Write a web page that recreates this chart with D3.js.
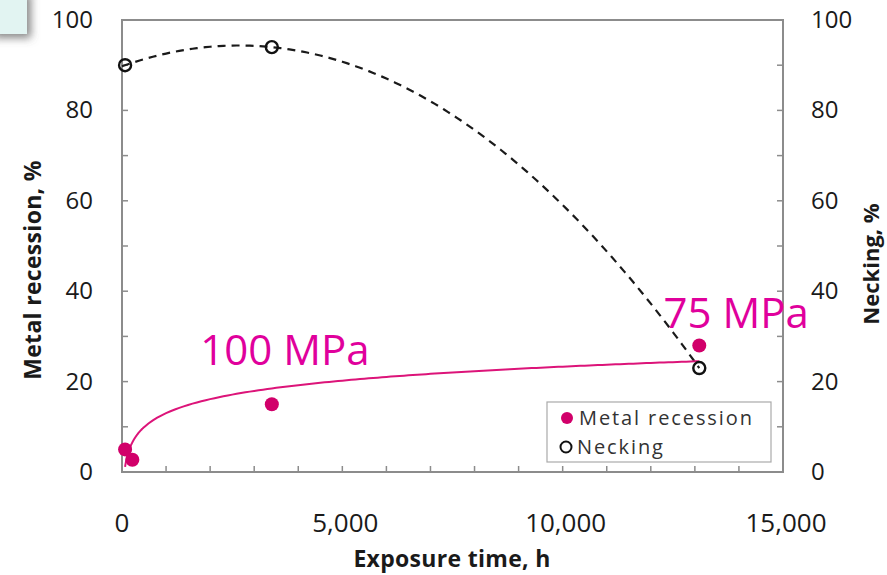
<!DOCTYPE html>
<html>
<head>
<meta charset="utf-8">
<script src="https://cdn.jsdelivr.net/npm/d3@7"></script>
<style>
  body { margin: 0; background: #fff; }
  svg { display: block; font-family: "Open Sans", sans-serif; }
</style>
</head>
<body>
<svg id="chart" width="887" height="575"></svg>
<script>
// data
var recessionHours = [70, 235, 3400, 13100],
    recessionPct = [5, 2.7, 15, 28];
var neckingHours = [70, 3400, 13100],
    neckingPct = [90, 94, 23];
var xTicks = [0, 5000, 10000, 15000],
    yTicks = [0, 20, 40, 60, 80, 100];
var stressLabels = [
  {text: "100 MPa", hours: 1775, pct: 23.7},
  {text: "75 MPa", hours: 12290, pct: 31.9}
];

var svg = d3.select("#chart");
var plotL = 122, plotR = 783, plotT = 20, plotB = 472;

var x = d3.scaleLinear().domain([0, 15000]).range([plotL, plotR]);
var y = d3.scaleLinear().domain([0, 100]).range([plotB, plotT]);
var y2 = d3.scaleLinear().domain([0, 100]).range([plotB, plotT]);

// slide corner box (top left)
var defs = svg.append("defs");
var f = defs.append("filter").attr("id", "shadow").attr("x", "-50%").attr("y", "-50%").attr("width", "200%").attr("height", "200%");
f.append("feDropShadow").attr("dx", 4).attr("dy", 4).attr("stdDeviation", 4).attr("flood-color", "#555").attr("flood-opacity", 0.7);
svg.append("rect").attr("x", -10).attr("y", -10).attr("width", 37).attr("height", 44)
  .attr("fill", "#e2f4f2").attr("filter", "url(#shadow)");

// plot frame
svg.append("rect")
  .attr("x", plotL).attr("y", plotT)
  .attr("width", plotR - plotL).attr("height", plotB - plotT)
  .attr("fill", "none").attr("stroke", "#8c8c8c").attr("stroke-width", 2);

// small inward ticks
var g = svg.append("g").attr("stroke", "#8c8c8c").attr("stroke-width", 1.5);
d3.range(1000, 15000, 1000).forEach(function(d) {
  g.append("line").attr("x1", x(d)).attr("x2", x(d)).attr("y1", plotB).attr("y2", plotB - 6);
});
d3.range(10, 100, 10).forEach(function(d) {
  g.append("line").attr("x1", plotL).attr("x2", plotL + 6).attr("y1", y(d)).attr("y2", y(d));
  g.append("line").attr("x1", plotR).attr("x2", plotR - 6).attr("y1", y2(d)).attr("y2", y2(d));
});

// tick labels
svg.append("g").selectAll("text").data(xTicks).enter().append("text")
  .attr("x", function(d) { return x(d) + (d > 0 ? 3 : 0); })
  .attr("y", 532)
  .attr("text-anchor", "middle")
  .attr("font-size", 26)
  .attr("fill", "#1a1a1a")
  .text(function(d) { return d3.format(",")(d); });

svg.append("g").selectAll("text").data(yTicks).enter().append("text")
  .attr("x", 93)
  .attr("y", function(d) { return y(d) + 8; })
  .attr("text-anchor", "end")
  .attr("font-size", 24)
  .attr("fill", "#1a1a1a")
  .text(function(d) { return d; });

svg.append("g").selectAll("text").data(yTicks).enter().append("text")
  .attr("x", 811)
  .attr("y", function(d) { return y2(d) + 8; })
  .attr("text-anchor", "start")
  .attr("font-size", 24)
  .attr("fill", "#1a1a1a")
  .text(function(d) { return d; });

// axis titles
svg.append("text")
  .attr("x", 452).attr("y", 567)
  .attr("text-anchor", "middle").attr("font-size", 23).attr("font-weight", "bold")
  .attr("letter-spacing", 0.3)
  .attr("fill", "#1a1a1a")
  .text("Exposure time, h");

svg.append("text")
  .attr("transform", "translate(41,270) rotate(-90)")
  .attr("text-anchor", "middle").attr("font-size", 23).attr("font-weight", "bold")
  .attr("letter-spacing", 0.3)
  .attr("fill", "#1a1a1a")
  .text("Metal recession, %");

svg.append("text")
  .attr("transform", "translate(879,264) rotate(-90)")
  .attr("text-anchor", "middle").attr("font-size", 22).attr("font-weight", "bold")
  .attr("fill", "#1a1a1a")
  .text("Necking, %");

// necking trend: quadratic through the three points
function quadFit(xs, ys) {
  var x0 = xs[0], x1 = xs[1], x2 = xs[2];
  var s1 = (ys[1] - ys[0]) / (x1 - x0), s2 = (ys[2] - ys[1]) / (x2 - x1);
  var a = (s2 - s1) / (x2 - x0);
  var b = s1 - a * (x0 + x1);
  var c = ys[0] - a * x0 * x0 - b * x0;
  return function(t) { return a * t * t + b * t + c; };
}
var neckFit = quadFit(neckingHours, neckingPct);
var neckLine = d3.line()
  .x(function(d) { return x(d); })
  .y(function(d) { return y2(neckFit(d)); });
svg.append("path")
  .datum(d3.range(0, 13101, 100))
  .attr("d", neckLine)
  .attr("fill", "none").attr("stroke", "#1a1a1a").attr("stroke-width", 2.2)
  .attr("stroke-dasharray", "8,6");

// recession trend: log fit y = a + b ln x
var lx = recessionHours.map(Math.log);
var mx = d3.mean(lx), my = d3.mean(recessionPct);
var sxy = d3.sum(lx, function(v, i) { return (v - mx) * (recessionPct[i] - my); });
var sxx = d3.sum(lx, function(v) { return (v - mx) * (v - mx); });
var lb = sxy / sxx, la = my - lb * mx;
var recLine = d3.line()
  .x(function(d) { return x(d); })
  .y(function(d) { return y(la + lb * Math.log(d)); });
var hrs = d3.range(70, 500, 5).concat(d3.range(500, 13101, 100));
svg.append("path")
  .datum(hrs)
  .attr("d", recLine)
  .attr("fill", "none").attr("stroke", "#dc1479").attr("stroke-width", 2);

// points
svg.append("g").selectAll("circle").data(recessionHours).enter().append("circle")
  .attr("cx", function(d) { return x(d); })
  .attr("cy", function(d, i) { return y(recessionPct[i]); })
  .attr("r", 7)
  .attr("fill", "#d1006a");

svg.append("g").selectAll("circle").data(neckingHours).enter().append("circle")
  .attr("cx", function(d) { return x(d); })
  .attr("cy", function(d, i) { return y2(neckingPct[i]); })
  .attr("r", 6)
  .attr("fill", "none").attr("stroke", "#111").attr("stroke-width", 2.4);

// stress labels
svg.append("g").selectAll("text").data(stressLabels).enter().append("text")
  .attr("x", function(d) { return x(d.hours); })
  .attr("y", function(d) { return y(d.pct); })
  .attr("font-size", 42)
  .attr("fill", "#e0009c")
  .text(function(d) { return d.text; });

// legend
var lg = svg.append("g").attr("transform", "translate(547,402)");
lg.append("rect").attr("width", 224).attr("height", 60)
  .attr("fill", "#fff").attr("stroke", "#aaa").attr("stroke-width", 1.2);
lg.append("circle").attr("cx", 20).attr("cy", 16).attr("r", 6).attr("fill", "#d1006a");
lg.append("circle").attr("cx", 19).attr("cy", 45).attr("r", 5.5)
  .attr("fill", "none").attr("stroke", "#111").attr("stroke-width", 2);
lg.append("text").attr("x", 32).attr("y", 23).attr("font-size", 20)
  .attr("letter-spacing", 1.9).attr("fill", "#333").text("Metal recession");
lg.append("text").attr("x", 30).attr("y", 52).attr("font-size", 20)
  .attr("letter-spacing", 1.9).attr("fill", "#333").text("Necking");
</script>
</body>
</html>
